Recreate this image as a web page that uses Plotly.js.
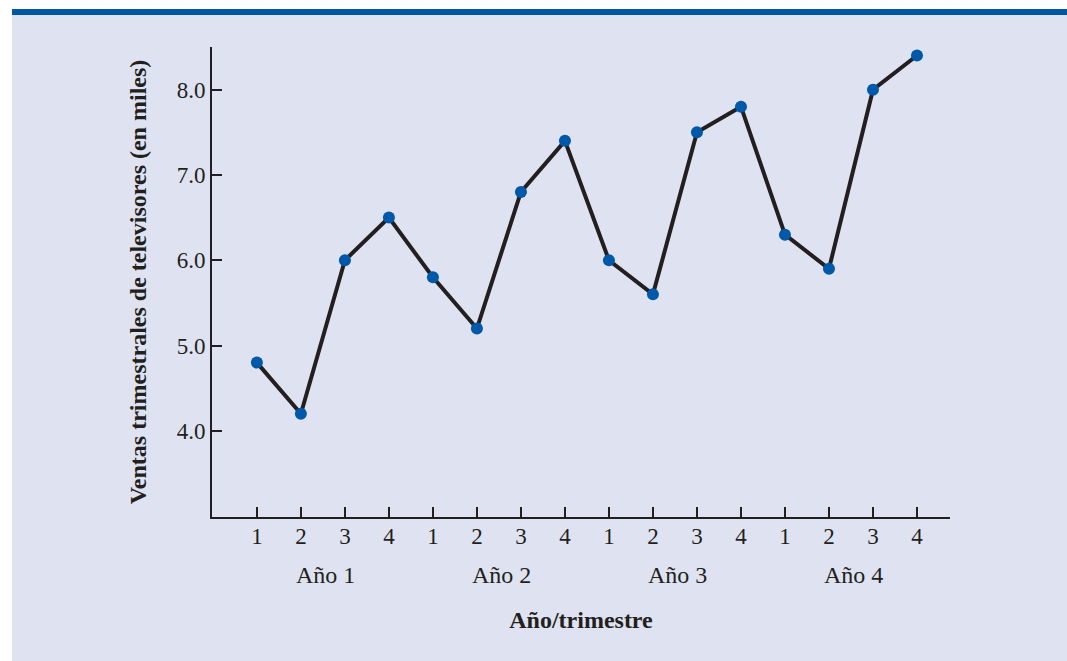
<!DOCTYPE html>
<html>
<head>
<meta charset="utf-8">
<script src="https://cdn.plot.ly/plotly-3.0.1.min.js"></script>
<style>
  html, body { margin:0; padding:0; background:#ffffff; width:1067px; height:661px; overflow:hidden; }
  #bar { position:absolute; left:12px; top:9px; width:1055px; height:6px; background:#0056a6; }
  #chart { position:absolute; left:12px; top:15px; width:1055px; height:646px; }
</style>
</head>
<body>
<div id="bar"></div>
<div id="chart"></div>
<script>
const quarters = ["1","2","3","4","1","2","3","4","1","2","3","4","1","2","3","4"];
const years = ["Año 1","Año 2","Año 3","Año 4"];
const sales = [4.8, 4.2, 6.0, 6.5, 5.8, 5.2, 6.8, 7.4, 6.0, 5.6, 7.5, 7.8, 6.3, 5.9, 8.0, 8.4];
const yTicks = [4.0, 5.0, 6.0, 7.0, 8.0];

const idx = quarters.map((q, i) => i);
const font = "'Liberation Serif', 'Times New Roman', serif";
const ink = '#231f20';

const trace = {
  x: idx, y: sales, type: 'scatter', mode: 'lines+markers',
  line: { color: ink, width: 4 },
  marker: { color: '#0058a8', size: 12 },
  cliponaxis: false, hoverinfo: 'skip'
};

const annotations = years.map((y, k) => ({
  x: k * 4 + 1.5, y: -0.123, xref: 'x', yref: 'paper', xshift: 3,
  text: y, showarrow: false, xanchor: 'center', yanchor: 'middle',
  font: { family: font, size: 24, color: ink }
}));

const layout = {
  width: 1055, height: 646,
  margin: { l: 200, r: 117, t: 32, b: 144 },
  paper_bgcolor: '#dfe3f1', plot_bgcolor: '#dfe3f1',
  showlegend: false,
  font: { family: font, size: 23, color: ink },
  xaxis: {
    range: [-1.02, 15.75], showgrid: false, zeroline: false,
    showline: true, linecolor: ink, linewidth: 2,
    ticks: 'inside', ticklen: 10, tickwidth: 2, tickcolor: ink,
    tickvals: idx, ticktext: quarters, ticklabelstandoff: -3,
    tickfont: { family: font, size: 23, color: ink },
    title: { text: '<b>Año/trimestre</b>', standoff: 64, font: { family: font, size: 24, color: ink } }
  },
  yaxis: {
    range: [2.99, 8.5], showgrid: false, zeroline: false,
    showline: true, linecolor: ink, linewidth: 2,
    ticks: 'inside', ticklen: 10, tickwidth: 2, tickcolor: ink,
    tickvals: yTicks, ticktext: yTicks.map(v => v.toFixed(1)),
    tickfont: { family: font, size: 23, color: ink },
    title: { text: '<b>Ventas trimestrales de televisores (en miles)</b>', standoff: 23, font: { family: font, size: 24, color: ink } }
  },
  annotations: annotations
};

Plotly.newPlot('chart', [trace], layout, { staticPlot: true });
</script>
</body>
</html>
